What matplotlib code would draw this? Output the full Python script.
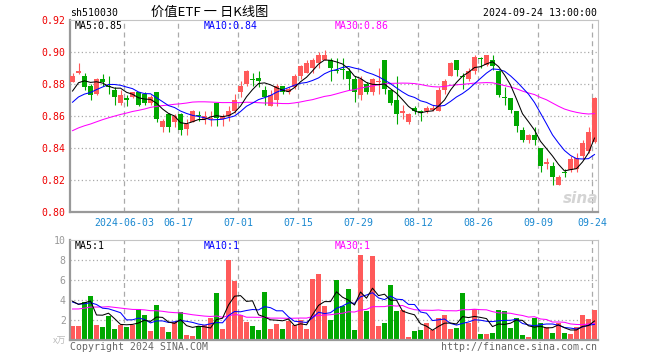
import numpy as np
import pandas as pd
import matplotlib
matplotlib.use("Agg")
import matplotlib.pyplot as plt

# daily candles, 2024-05-21 .. 2024-09-24 (88 trading days)
opens = [0.881, 0.887, 0.885, 0.879, 0.874, 0.883, 0.879, 0.876, 0.868, 0.871,
         0.872, 0.875, 0.874, 0.868, 0.875, 0.853, 0.861, 0.856, 0.861, 0.852,
         0.856, 0.8605, 0.858, 0.858, 0.868, 0.858, 0.860, 0.863, 0.875, 0.880,
         0.8830, 0.884, 0.876, 0.866, 0.870, 0.879, 0.875, 0.878, 0.885, 0.887,
         0.890, 0.893, 0.895, 0.895, 0.8885, 0.889, 0.888, 0.883, 0.873, 0.880,
         0.875, 0.881, 0.895, 0.876, 0.870, 0.862, 0.856, 0.865, 0.863, 0.863,
         0.864, 0.863, 0.876, 0.885, 0.895, 0.885, 0.883, 0.888, 0.8960, 0.892,
         0.895, 0.888, 0.8715, 0.871, 0.863, 0.851, 0.845, 0.848, 0.840, 0.830,
         0.829, 0.817, 0.8248, 0.826, 0.827, 0.835, 0.838, 0.844]
highs = [0.887, 0.893, 0.887, 0.880, 0.884, 0.886, 0.885, 0.878, 0.876, 0.873,
         0.875, 0.875, 0.875, 0.873, 0.875, 0.858, 0.862, 0.861, 0.862, 0.858,
         0.864, 0.863, 0.863, 0.863, 0.868, 0.861, 0.866, 0.874, 0.882, 0.889,
         0.887, 0.888, 0.879, 0.876, 0.880, 0.879, 0.878, 0.886, 0.892, 0.895,
         0.896, 0.900, 0.901, 0.896, 0.896, 0.896, 0.890, 0.885, 0.885, 0.881,
         0.884, 0.890, 0.895, 0.877, 0.885, 0.867, 0.862, 0.866, 0.864, 0.866,
         0.867, 0.878, 0.883, 0.894, 0.895, 0.887, 0.890, 0.898, 0.897, 0.898,
         0.898, 0.889, 0.878, 0.871, 0.863, 0.853, 0.849, 0.853, 0.840, 0.834,
         0.831, 0.823, 0.827, 0.835, 0.837, 0.845, 0.853, 0.872]
lows = [0.881, 0.886, 0.876, 0.870, 0.873, 0.879, 0.874, 0.867, 0.867, 0.866,
        0.871, 0.866, 0.867, 0.867, 0.856, 0.850, 0.850, 0.853, 0.848, 0.848,
        0.856, 0.857, 0.855, 0.854, 0.854, 0.854, 0.857, 0.862, 0.872, 0.879,
        0.879, 0.878, 0.867, 0.866, 0.866, 0.874, 0.874, 0.877, 0.883, 0.887,
        0.887, 0.890, 0.895, 0.882, 0.887, 0.883, 0.876, 0.869, 0.870, 0.874,
        0.873, 0.874, 0.874, 0.867, 0.855, 0.858, 0.855, 0.861, 0.857, 0.862,
        0.863, 0.863, 0.874, 0.885, 0.885, 0.877, 0.882, 0.886, 0.890, 0.891,
        0.889, 0.872, 0.867, 0.862, 0.850, 0.844, 0.843, 0.842, 0.825, 0.827,
        0.817, 0.817, 0.822, 0.825, 0.825, 0.833, 0.837, 0.843]
closes = [0.885, 0.888, 0.878, 0.873, 0.883, 0.881, 0.878, 0.872, 0.873, 0.870,
          0.875, 0.867, 0.868, 0.872, 0.858, 0.857, 0.853, 0.860, 0.851, 0.855,
          0.863, 0.8600, 0.860, 0.859, 0.859, 0.860, 0.863, 0.870, 0.879, 0.888,
          0.8825, 0.882, 0.872, 0.873, 0.879, 0.875, 0.877, 0.885, 0.891, 0.893,
          0.895, 0.898, 0.898, 0.890, 0.8880, 0.8885, 0.883, 0.875, 0.883, 0.875,
          0.883, 0.882, 0.877, 0.868, 0.861, 0.863, 0.861, 0.863, 0.862, 0.865,
          0.865, 0.876, 0.882, 0.893, 0.889, 0.8845, 0.888, 0.897, 0.8955, 0.898,
          0.891, 0.873, 0.8710, 0.864, 0.854, 0.845, 0.848, 0.845, 0.829, 0.831,
          0.822, 0.822, 0.8244, 0.833, 0.834, 0.843, 0.850, 0.871]
# volume, 10k lots
volumes = [1.4, 1.4, 3.8, 4.4, 1.5, 1.3, 2.4, 1.1, 1.5, 1.3,
           1.5, 3.1, 2.5, 0.9, 3.5, 1.3, 0.8, 1.8, 2.8, 0.5,
           0.4, 1.4, 1.5, 2.2, 4.7, 1.1, 8.0, 5.9, 2.5, 1.8,
           1.4, 1.0, 4.8, 1.1, 1.6, 1.1, 1.9, 1.5, 2.0, 1.1,
           6.1, 6.6, 3.4, 2.0, 6.0, 3.4, 5.1, 1.0, 8.5, 2.9,
           8.4, 1.4, 1.7, 5.5, 2.9, 3.0, 0.3, 0.9, 1.0, 1.7,
           1.0, 2.2, 2.5, 1.1, 1.2, 4.7, 1.7, 3.1, 0.6, 0.6,
           0.7, 3.0, 2.9, 1.2, 2.2, 0.5, 0.3, 2.2, 1.7, 1.3,
           0.7, 1.7, 0.7, 0.6, 1.3, 2.5, 2.1, 3.0]

# 29 days before the window, only needed so the moving averages start at the left edge
prior_closes = [0.836, 0.838, 0.840, 0.842, 0.841, 0.843, 0.840, 0.842, 0.844, 0.845,
                0.846, 0.843, 0.841, 0.840, 0.842, 0.843, 0.845, 0.842, 0.841, 0.845,
                0.855, 0.860, 0.863, 0.865, 0.865, 0.862, 0.872, 0.878, 0.881]
prior_volumes = [1.3, 1.3, 1.3, 1.3, 1.3, 1.3, 3.2, 3.6, 3.4, 3.5,
                 3.3, 3.6, 3.4, 3.5, 3.1, 3.4, 3.2, 3.5, 3.3, 3.2,
                 3.5, 3.5, 3.3, 3.3, 5.0, 3.0, 3.0, 3.5, 8.5]

tick_idx = [9, 18, 28, 38, 48, 58, 68, 78, 87]
tick_labels = ["2024-06-03", "06-17", "07-01", "07-15", "07-29",
               "08-12", "08-26", "09-09", "09-24"]

RED = "#ff5a5a"
GREEN = "#00a800"
GRID = "#aaaaaa"
plt.rcParams["font.family"] = ["DejaVu Sans Mono"]

W, H = 660, 360
fig = plt.figure(figsize=(W / 100, H / 100), dpi=100)


def box(l, t, r, b):
    return [l / W, 1 - b / H, (r - l) / W, (b - t) / H]


def ftext(px, py, s, **kw):
    fig.text(px / W, 1 - py / H, s, va="center", **kw)


def ma(prior, vals, n):
    s = pd.Series(list(prior) + list(vals))
    return s.rolling(n).mean().to_numpy()[-len(vals):]


n = len(closes)
x = np.arange(n)
o, h, l, c = map(np.array, (opens, highs, lows, closes))
cols = np.where(c >= o, RED, GREEN)

ax = fig.add_axes(box(70, 20, 597.5, 212))
axv = fig.add_axes(box(70, 240, 597.5, 340))

for a in (ax, axv):
    a.set_xlim(-0.42, n - 0.5)
    for p in tick_idx:
        a.axvline(p - 0.37, color=GRID, lw=0.9, ls=(0, (4, 3)), zorder=0)
    for side in ("left", "bottom"):
        a.spines[side].set_color("#999999")
        a.spines[side].set_linewidth(1.6)
    for side in ("top", "right"):
        a.spines[side].set_color("#c4c4c4")
        a.spines[side].set_linewidth(0.8)
    a.tick_params(length=0)

# price panel
ax.set_ylim(0.80, 0.92)
for yv in [0.82, 0.84, 0.86, 0.88, 0.90]:
    ax.axhline(yv, color=GRID, lw=0.9, ls=(0, (1, 2)), zorder=0)
ax.vlines(x, l, h, colors=cols, lw=0.8, zorder=2)
ax.bar(x, np.maximum(np.abs(c - o), 0.0006), bottom=np.minimum(o, c),
       width=0.82, color=cols, linewidth=0, zorder=3)
ax.plot(x, ma(prior_closes, closes, 30), color="#ff00ff", lw=0.75, zorder=4)
ax.plot(x, ma(prior_closes, closes, 10), color="#0000ff", lw=0.75, zorder=4)
ax.plot(x, ma(prior_closes, closes, 5), color="black", lw=0.75, zorder=4)
ax.set_yticks([0.80, 0.82, 0.84, 0.86, 0.88, 0.90, 0.92])
ax.set_yticklabels(["%.2f" % v for v in ax.get_yticks()])
ax.tick_params(axis="y", labelcolor="#ee0000", labelsize=7.1, pad=3)
ax.set_xticks([p - 0.37 for p in tick_idx])
ax.set_xticklabels(tick_labels)
ax.tick_params(axis="x", labelcolor="#1a88d0", labelsize=7.1, pad=4)

# volume panel
axv.set_ylim(0, 10)
for yv in [2, 4, 6, 8]:
    axv.axhline(yv, color=GRID, lw=0.9, ls=(0, (1, 2)), zorder=0)
axv.bar(x, volumes, width=0.82, color=cols, linewidth=0, zorder=2)
axv.plot(x, ma(prior_volumes, volumes, 30), color="#ff00ff", lw=0.75, zorder=3)
axv.plot(x, ma(prior_volumes, volumes, 10), color="#0000ff", lw=0.75, zorder=3)
axv.plot(x, ma(prior_volumes, volumes, 5), color="black", lw=0.75, zorder=3)
axv.set_yticks([2, 4, 6, 8, 10])
axv.set_yticklabels(["2", "4", "6", "8", "10"])
axv.tick_params(axis="y", labelcolor="#999999", labelsize=7.1, pad=3)
axv.set_xticks([])

# texts
ftext(210, 12, "价值ETF 一 日K线图", ha="center", fontsize=9.5,
      family=["Noto Sans CJK SC", "DejaVu Sans"])
ftext(70, 13, "sh510030", ha="left", fontsize=7.1)
ftext(597, 12.5, "2024-09-24 13:00:00", ha="right", fontsize=7.1)
ftext(75, 26, "MA5:0.85", ha="left", fontsize=7.1, color="black")
ftext(204, 26, "MA10:0.84", ha="left", fontsize=7.1, color="#0000ff")
ftext(335, 26, "MA30:0.86", ha="left", fontsize=7.1, color="#ff00ff")
ftext(75, 246, "MA5:1", ha="left", fontsize=7.1, color="black")
ftext(204, 246, "MA10:1", ha="left", fontsize=7.1, color="#0000ff")
ftext(335, 246, "MA30:1", ha="left", fontsize=7.1, color="#ff00ff")
ftext(66, 341, "x万", ha="right", fontsize=6.5, color="#bbbbbb",
      family=["Noto Sans CJK SC", "DejaVu Sans"])
ftext(70, 346.5, "Copyright 2024 SINA.COM", ha="left", fontsize=7.1, color="#666666")
ftext(597, 346.5, "http://finance.sina.com.cn", ha="right", fontsize=7.1, color="#666666")
ftext(581, 198, "sina", ha="center", fontsize=11, color="#d4d4d4",
      family=["DejaVu Sans"], style="italic", weight="bold")

fig.savefig("out.png", dpi=100)
